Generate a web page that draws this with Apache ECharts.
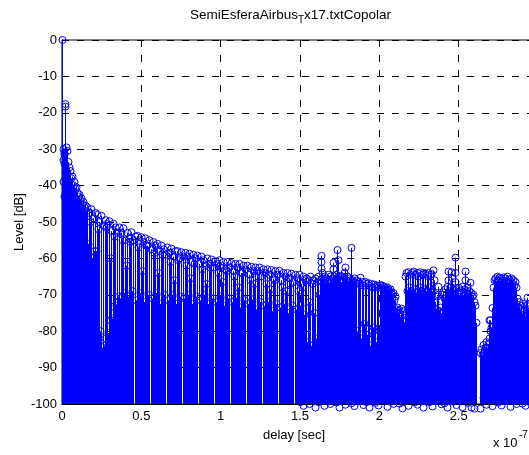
<!DOCTYPE html>
<html><head><meta charset="utf-8">
<script src="https://cdn.jsdelivr.net/npm/echarts@6/dist/echarts.min.js"></script>
<style>html,body{margin:0;padding:0;background:#fff}#c{width:529px;height:455px}</style>
</head><body><div id="c"></div>
<script>
// delays are in units of 1e-7 s (axis shows "x 10^-7")
const xTicks = [0, 0.5, 1, 1.5, 2, 2.5];
const yTicks = [0, -10, -20, -30, -40, -50, -60, -70, -80, -90, -100];

// direct path and first reflections
const earlyStart = 0, earlyStep = 0.0063;
const earlyLevels = [0,-33,-31,-17.6,-29.5,-30.5,-33.5,-35,-36,-38,-37.5,-40,-39,-41,-40.5,-42,-43,-42.5,-44,-43.5,-45,-44.5,-46,-45.5,-47];

// decaying envelope of stems
const envStart = 0.1576, envStep = 0.0126;
const envLevels = [-46,-47.5,-46.5,-49,-47.5,-48,-50,-48.3,-51,-49.5,
 -50.5,-49.8,-52.5,-50.5,-51.5,-53,-51.5,-53,-51.7,-55,
 -53,-54.5,-52.8,-55,-54,-53.8,-56,-54.2,-55.5,-54.5,
 -56.5,-55,-57.5,-55.5,-56.5,-56,-58,-56.5,-57.5,-59,
 -57,-58.5,-57.3,-59.5,-58,-58,-60,-58.3,-59.5,-58.5,
 -59.5,-58.7,-61,-59,-60,-59.2,-61.5,-59.5,-60.5,-62,
 -60,-61.5,-60.3,-62.5,-60.8,-61.5,-60.5,-62.5,-61,-63,
 -61,-62.5,-61.3,-63.5,-61.5,-62.5,-61.5,-64,-62,-63,
 -62,-64.5,-62.3,-63.5,-62.5,-63.5,-62.5,-65,-63,-64,
 -63,-64.5,-63.2,-65.5,-63.5,-64.5,-63.4,-66,-64,-65,
 -64,-65.5,-64.2,-66.5,-64.5,-65.5,-64.5,-67,-65,-66];

// stems just below the envelope
const midStart = 0.1765, midStep = 0.0504;
const midLevels = [-50,-52,-51.5,-54,-55,-55.5,-57,-56.5,-58.5,-59,
 -61,-60.5,-62,-61.5,-63,-62.5,-64,-63.5,-65,-64,
 -66,-65,-67,-66,-68,-67,-69];
const mid2Start = 0.2017, mid2Step = 0.0504;
const mid2Levels = [-58,null,-60,null,-62,null,-63.5,null,-64,null,
 -66,null,-65.5,null,-67,null,-66.5,null,-68,null,
 -67,null,-68.5,null,-69,null,-68];

// lower band of stems around -70 dB
const bandStart = 0.1639, bandStep = 0.0252;
const bandLevels = [-56,-60,-58,-80,-84,-80.5,-76.5,-73,-71,-69.5,
 -70.5,-69,-71.5,-69.5,-72,-70,-71,-69.5,-72.5,-70,
 -71.5,-70,-72.5,-70.5,-71,-70,-72.5,-70.5,-71.5,-70,
 -72.5,-71,-72,-70.5,-73,-71,-72,-70.8,-73.5,-71.5,
 -72.5,-71.3,-74,-72,-73,-72,-74.5,-72.5,-73.5,-72.5,
 -75,-73,-74,-73,-75.5];

// dense late part
const denseStart = 1.5378, denseStep = 0.0063;
const denseLevels = [
 -65.5,-83,-66,-72,-65,-84,-67,-66,-75,-65.5,-82,-66.5,-65,-70,-66,
 -59.3,-65.5,-66,-65,-67,-65.5,-66,-64.5,-67,-65,-66,-65.5,-61.2,-65,-66,
 -64.5,-57.7,-65,-66,-64.8,-66.5,-65,-66,-65.3,-62.5,-66,-65,-66.5,-65.5,-66,
 -57.1,-66,-66.5,-65.5,-67,-66,-80,-66.5,-67,-65.3,-82,-66.5,-67.5,-78,-66.5,
 -67,-81,-66.8,-67.5,-84,-67,-68,-79,-67.2,-67.8,-83,-67.5,-68,-80,-67.3,
 -68,-67.5,-68.5,-67.8,-68.2,-68.8,-68,-68.5,-69,-68.5,-69.5,-70,-69.5,-71.5,-70.5,
 -74,-73.5,-75,-74.2,-76,-73.8,-75.5,-74.5,-77.5,-65,-64,-69,-63.8,-68,-64.5,
 -69,-64,-63.6,-68.5,-64.5,-69.5,-64,-65,-68,-63.8,-69,-64.5,-64,-68.5,-64.2,
 -69,-64.8,-64,-68,-65,-64.3,-69,-63.3,-66,-72,-74,-70.5,-67.8,-74.5,-73.5,
 -75,-70,-69.4,-71,-68.5,-70,-67.8,-63.6,-69,-68,-63.8,-69.5,-68.5,-70,-59.8,
 -68.5,-69.5,-68,-70,-68.8,-69.5,-67.8,-70.2,-68.5,-63.6,-69,-68,-70,-69,-66.7,
 -69.5,-70.5,-70,-72,-73,-77.7,null,null,null,-86,-85,-86.5,-83.8,-85.5,-84.5,
 -83,-84.5,-83.5,-82,-77,-79,-73.6,-68,-66,-65.5,-66.5,-65,-66,-65.3,-66.7,
 -65.5,-66,-65.2,-66.5,-65.5,-66.2,-65,-66.8,-65.8,-66.3,-65.5,-67,-66,-67.5,-66.5,
 -68,-71,-73.5,-72,-74.5,-73,-75.5,-72.5,-74,-76,-73,-70.8,-74,-72.5];

// floor of near -100 dB samples
const floorStart = 1.5, floorStep = 0.0189;
const floorLevels = [-99.5,-100.5,-98.5,-100,-99,-101,-99.5,-98,-100.5,-99.3,
 -100,-98.8,-99.6,-101,-99,-100.2,-98.5,-99.8,-100.6,-99.2,
 -98.7,-100.3,-99.5,-101,-98.9,-99.7,-100.4,-99,-98.4,-100.8,
 -99.4,-100,-98.6,-99.9,-101.2,-99.1,-100.5,-98.3,-99.6,-100.2,
 -99,-101,-98.8,-99.5,-100.7,-99.2,-98.5,-100.1,-99.8,-101,
 -98.7,-99.4,-100.3,-99,-100.9,-98.6,-99.7,-101,-101.3,null,
 -101.3,-98.4,-100.2,-99.1,-100.6,-98.9,-99.6,-100.4,-99.2,-98.5,
 -100.8,-99.3,-100,-98.7,-99.9,-100.5,-99.4];

// additional individual samples (stacked markers)
const extraDelays = [0.019,0.006,0.010,0.013,0.016,0.008,0.022,0.025,0.012,0.030,
 0.035,0.045,0.055,0.065,0.075,0.085,0.10,0.115,0.13,0.145,
 0.15,0.17,0.22,0.25,0.27,0.30,0.30,0.32,0.35,
 1.635,1.635,1.64,1.707,1.74,1.78,
 2.12,2.14,2.37,2.43,2.46,2.475,2.48,2.54,2.69,2.70];
const extraLevels = [-18.3,-30,-31.5,-34,-36.5,-39,-38,-41,-43,-44,
 -47,-49,-52,-48,-51,-54,-50,-53,-56,-58,
 -63,-61,-86,-84.5,-82,-82,-77,-73.3,-70.5,
 -61,-62.8,-64,-63,-60.5,-64,
 -77.7,-79,-70,-66,-65.5,-64,-66.5,-66,-77,-80];

const BLUE = '#0000ff';
const FONT = '"Liberation Sans", Arial, Helvetica, sans-serif';
const yMin = -100;

const points = [];
function addSeq(start, step, levels) {
  levels.forEach((v, i) => { if (v !== null) points.push([start + i * step, v]); });
}
addSeq(earlyStart, earlyStep, earlyLevels);
addSeq(envStart, envStep, envLevels);
addSeq(midStart, midStep, midLevels);
addSeq(mid2Start, mid2Step, mid2Levels);
addSeq(bandStart, bandStep, bandLevels);
addSeq(denseStart, denseStep, denseLevels);
addSeq(floorStart, floorStep, floorLevels);
extraDelays.forEach((d, i) => points.push([d, extraLevels[i]]));

function renderItem(params, api) {
  const x = api.value(0), y = api.value(1);
  const top = api.coord([x, y]);
  const base = api.coord([x, yMin]);
  const px = Math.round(top[0]) + 0.5;
  const children = [];
  if (y > yMin) {
    children.push({type: 'line', shape: {x1: px, y1: base[1], x2: px, y2: top[1]},
      style: {stroke: BLUE, lineWidth: 1}});
  }
  children.push({type: 'circle', shape: {cx: px, cy: top[1], r: 3.5},
    style: {fill: 'none', stroke: BLUE, lineWidth: 1}});
  return {type: 'group', children};
}

// title pieces (subscript T), laid out by measured widths
const ctx = document.createElement('canvas').getContext('2d');
const t1 = 'SemiEsferaAirbus', t2 = 'T', t3 = 'x17.txtCopolar';
const titleSize = 13.5, subSize = 10;
ctx.font = titleSize + 'px ' + FONT; const w1 = ctx.measureText(t1).width, w3 = ctx.measureText(t3).width;
ctx.font = subSize + 'px ' + FONT; const w2 = ctx.measureText(t2).width;
const titleCenter = 290.5;
const tx1 = titleCenter - (w1 + w2 + w3) / 2;

function txt(x, y, text, size, align) {
  return {type: 'text', x, y, silent: true, style: {
    text, align: align || 'left', verticalAlign: 'middle', textAlign: align || 'left', textVerticalAlign: 'middle',
    fill: '#000', font: size + 'px ' + FONT}};
}

const chart = echarts.init(document.getElementById('c'), null, {renderer: 'canvas'});
chart.setOption({
  animation: false,
  backgroundColor: '#fff',
  grid: {left: 62, top: 40, width: 476, height: 364, show: true, borderColor: '#000', borderWidth: 1,
    backgroundColor: '#fff', containLabel: false, outerBoundsMode: 'none'},
  xAxis: {
    type: 'value', min: 0, max: 3, interval: 0.5,
    axisLine: {onZero: false, lineStyle: {color: '#000', width: 1}},
    axisTick: {inside: true, length: 5, lineStyle: {color: '#000'}},
    axisLabel: {color: '#000', fontFamily: FONT, fontSize: 13, margin: 6,
      formatter: v => xTicks.indexOf(v) >= 0 ? String(v) : ''},
    splitLine: {show: true, lineStyle: {color: '#000', width: 1, type: [7, 8]}}
  },
  yAxis: {
    type: 'value', min: -100, max: 0, interval: 10,
    axisLine: {onZero: false, lineStyle: {color: '#000', width: 1}},
    axisTick: {inside: true, length: 5, lineStyle: {color: '#000'}},
    axisLabel: {color: '#000', fontFamily: FONT, fontSize: 13, margin: 5,
      formatter: v => yTicks.indexOf(v) >= 0 ? String(v) : ''},
    splitLine: {show: true, lineStyle: {color: '#000', width: 1, type: [7, 8]}}
  },
  series: [{
    type: 'custom', renderItem, data: points, encode: {x: 0, y: 1},
    clip: false, silent: true, progressive: 0, z: 2
  }],
  graphic: [
    txt(tx1, 15, t1, titleSize),
    txt(tx1 + w1, 20.5, t2, subSize),
    txt(tx1 + w1 + w2, 15, t3, titleSize),
    txt(294, 435, 'delay [sec]', 13, 'center'),
    Object.assign(txt(19, 222, 'Level [dB]', 13, 'center'), {rotation: Math.PI / 2}),
    txt(493, 443, 'x 10', 13),
    txt(519, 435, '-7', 10)
  ]
});
</script>
</body></html>
